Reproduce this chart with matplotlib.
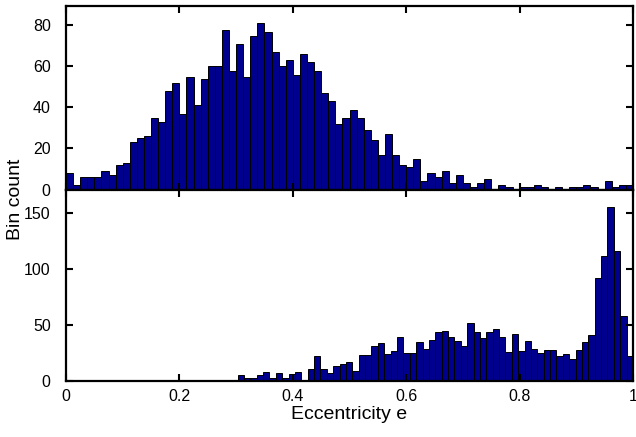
import matplotlib
matplotlib.use("Agg")
import matplotlib.pyplot as plt
import numpy as np

plt.rcParams["font.family"] = ["Liberation Sans", "DejaVu Sans"]

# upper histogram: 80 equal bins spanning e = 0 .. 1
top_range = (0.0, 1.0)
top_counts = [
    8, 2, 6, 6, 6, 9, 7, 12, 13, 23, 25, 26, 35, 33, 48, 52, 37, 55, 41, 54,
    60, 60, 78, 58, 71, 55, 75, 81, 77, 67, 60, 63, 56, 66, 62, 58, 47, 43, 32, 35,
    39, 35, 29, 24, 17, 27, 17, 12, 11, 15, 4, 8, 6, 9, 3, 7, 3, 1, 3, 5,
    0, 2, 1, 0, 1, 1, 2, 1, 0, 1, 0, 1, 1, 2, 1, 0, 4, 1, 2, 2,
]

# lower histogram: 80 equal bins spanning e = 0.1 .. 1
bottom_range = (0.1, 1.0)
bottom_counts = [
    1, 0, 0, 0, 0, 1, 0, 0, 0, 0, 0, 0, 0, 0, 0, 0, 0, 0,
    5, 3, 3, 5, 8, 3, 7, 3, 6, 8, 1, 11, 22, 11, 7, 13, 15, 17,
    9, 23, 23, 31, 34, 24, 27, 39, 25, 25, 35, 29, 37, 44, 45, 39, 36, 31, 52, 44, 38, 44,
    46, 39, 26, 42, 27, 36, 29, 25, 28, 28, 22, 24, 20, 28, 35, 41, 92, 112, 155, 116, 58, 22,
]

x_ticks = [0, 0.2, 0.4, 0.6, 0.8, 1]
x_tick_labels = ["0", "0.2", "0.4", "0.6", "0.8", "1"]
top_yticks = [0, 20, 40, 60, 80]
bottom_yticks = [0, 50, 100, 150]

BAR_COLOR = "#00008f"


def draw_hist(ax, counts, lo, hi):
    edges = np.linspace(lo, hi, len(counts) + 1)
    ax.bar(edges[:-1], counts, width=np.diff(edges), align="edge",
           color=BAR_COLOR, edgecolor="black", linewidth=0.7)
    ax.set_xlim(0, 1)
    ax.set_xticks(x_ticks)
    ax.tick_params(direction="in", top=True, right=True, length=5, width=1.5,
                   labelsize=11.5)
    ax.tick_params(axis="y", pad=11)
    ax.tick_params(axis="x", pad=6)
    for sp in ax.spines.values():
        sp.set_linewidth(1.6)


fig = plt.figure(figsize=(6.36, 4.37), dpi=100)
ax_top = fig.add_axes([66 / 636, 1 - 189.5 / 437, 567 / 636, 183.5 / 437])
ax_bot = fig.add_axes([66 / 636, 1 - 381 / 437, 567 / 636, 191.5 / 437])

draw_hist(ax_top, top_counts, *top_range)
ax_top.set_ylim(0, 89.5)
ax_top.set_yticks(top_yticks)
ax_top.set_xticklabels([])

draw_hist(ax_bot, bottom_counts, *bottom_range)
ax_bot.set_ylim(0, 171)
ax_bot.set_yticks(bottom_yticks)
ax_bot.set_xticklabels(x_tick_labels)
ax_bot.set_xlabel("Eccentricity e", fontsize=14, labelpad=1)

fig.text(15 / 636, 0.545, "Bin count", rotation=90, fontsize=14,
         ha="center", va="center")

fig.savefig("out.png", dpi=100)
